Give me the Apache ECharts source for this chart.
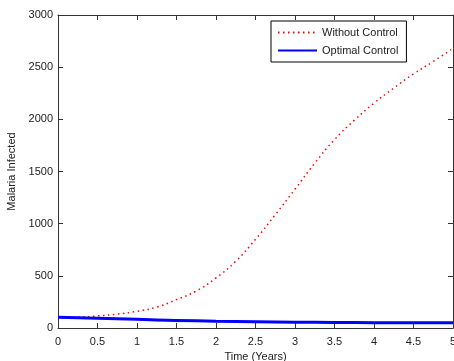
<!DOCTYPE html>
<html>
<head>
<meta charset="utf-8">
<script src="https://cdn.jsdelivr.net/npm/echarts@6/dist/echarts.min.js"></script>
<style>
  html, body { margin: 0; padding: 0; background: #fff; }
  #chart { width: 454px; height: 361px; }
</style>
</head>
<body>
<div id="chart"></div>
<script>
// values
const timeNoControl = [0, 0.25, 0.5, 0.75, 1, 1.25, 1.5, 1.75, 2, 2.25, 2.5, 2.75, 3, 3.25, 3.5, 3.75, 4, 4.25, 4.5, 4.75, 5];
const withoutControl = [100, 104, 116, 133, 160, 200, 272, 355, 480, 640, 850, 1085, 1330, 1580, 1805, 1990, 2155, 2300, 2435, 2555, 2680];
const timeControl = [0, 0.5, 1, 1.5, 2, 2.5, 3, 3.5, 4, 4.5, 5];
const optimalControl = [102, 93, 83, 73, 65, 60, 56, 53, 51, 50, 50];
const xTicks = { min: 0, max: 5, interval: 0.5 };
const yTicks = { min: 0, max: 3000, interval: 500 };

const FONT = 'Liberation Sans, Arial, sans-serif';
const AXIS_COLOR = '#333';

const chart = echarts.init(document.getElementById('chart'), null, { renderer: 'canvas' });

const axisBase = {
  type: 'value',
  axisLine: { show: true, onZero: false, lineStyle: { color: AXIS_COLOR, width: 1 } },
  axisTick: { show: true, inside: true, length: 5, lineStyle: { color: AXIS_COLOR } },
  splitLine: { show: false },
};

chart.setOption({
  animation: false,
  backgroundColor: '#fff',
  textStyle: { fontFamily: FONT },
  grid: { left: 58, right: 1, top: 15, bottom: 33, containLabel: false, outerBoundsMode: 'none' },
  legend: {
    orient: 'vertical',
    left: 271,
    top: 21,
    padding: [6, 8, 6, 6],
    itemWidth: 39,
    itemHeight: 10,
    itemGap: 7,
    backgroundColor: '#fff',
    borderColor: '#000',
    borderWidth: 1,
    borderRadius: 0,
    itemStyle: { opacity: 0 },
    textStyle: { fontSize: 11, color: '#222', fontFamily: FONT },
    data: ['Without Control', 'Optimal Control'],
  },
  xAxis: [
    Object.assign({}, axisBase, {
      position: 'bottom',
      min: xTicks.min, max: xTicks.max, interval: xTicks.interval,
      name: 'Time (Years)', nameLocation: 'middle', nameGap: 21,
      nameTextStyle: { fontSize: 11, color: '#222', fontFamily: FONT },
      axisLabel: { fontSize: 11, color: '#222', margin: 8, fontFamily: FONT },
    }),
    Object.assign({}, axisBase, {
      position: 'top',
      min: xTicks.min, max: xTicks.max, interval: xTicks.interval,
      axisLabel: { show: false },
    }),
  ],
  yAxis: [
    Object.assign({}, axisBase, {
      position: 'left',
      min: yTicks.min, max: yTicks.max, interval: yTicks.interval,
      name: 'Malaria Infected', nameLocation: 'middle', nameGap: 37,
      nameTextStyle: { fontSize: 11, color: '#222', fontFamily: FONT },
      axisLabel: { fontSize: 11, color: '#222', margin: 5, fontFamily: FONT, formatter: v => String(v) },
    }),
    Object.assign({}, axisBase, {
      position: 'right',
      min: yTicks.min, max: yTicks.max, interval: yTicks.interval,
      axisLabel: { show: false },
    }),
  ],
  series: [
    {
      name: 'Without Control',
      type: 'line',
      smooth: true,
      symbol: 'none',
      lineStyle: { color: '#ff0000', width: 1.5, type: [1.5, 3.5] },
      itemStyle: { color: '#ff0000' },
      data: timeNoControl.map((t, i) => [t, withoutControl[i]]),
    },
    {
      name: 'Optimal Control',
      type: 'line',
      smooth: true,
      symbol: 'none',
      lineStyle: { color: '#0000ff', width: 3 },
      itemStyle: { color: '#0000ff' },
      data: timeControl.map((t, i) => [t, optimalControl[i]]),
    },
  ],
});
</script>
</body>
</html>
